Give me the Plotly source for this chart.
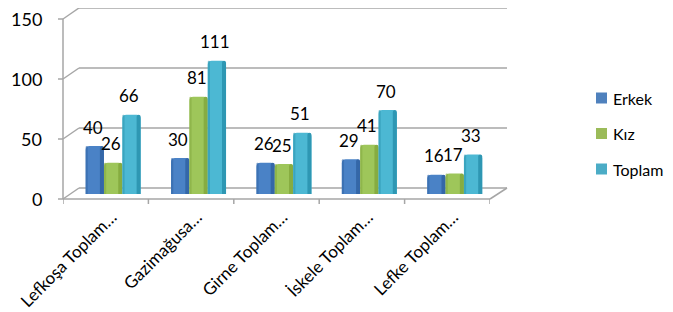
import plotly.graph_objects as go

categories = ["Lefkoşa Toplam…", "Gazimağusa…", "Girne Toplam…", "İskele Toplam…", "Lefke Toplam…"]
erkek = [40, 30, 26, 29, 16]
kiz = [26, 81, 25, 41, 17]
toplam = [66, 111, 51, 70, 33]
series_names = ["Erkek", "Kız", "Toplam"]
y_ticks = [0, 50, 100, 150]
y_tick_labels = ["0", "50", "100", "150"]

edge_colors = ["#3467A8", "#86AC41", "#2E97B3"]
mid_colors = ["#4A82C6", "#9EC65A", "#4CB8D3"]
legend_colors = ["#4F81BD", "#9BBB59", "#4BACC6"]
offsets = [-0.235, -0.02, 0.195]
bar_w = 0.214

# page body has an 8px margin: lay out in window pixels minus 8
PAGE = 8
WIN_W, WIN_H = 673, 312
W, H = WIN_W - PAGE, WIN_H - PAGE
X_LEFT, X_RIGHT = 63, 490        # front category span (window px)
Y_TOP, Y_BASE = 14, 194          # bar scale 150 -> 0 (window px)
ML = X_LEFT - PAGE
MR = W - (X_RIGHT - PAGE)
MT = Y_TOP - PAGE
MB = H - (Y_BASE - PAGE)
PW = X_RIGHT - X_LEFT
PH = Y_BASE - Y_TOP
YMAX = 150
DX, DY_BACK, DY_FRONT = 16, 6, 5
FONT = "Lato"
GRID = "#A6A6A6"
LEG_X, LEG_Y0, LEG_STEP, LEG_SQ = 596, 98, 35.5, 11


def py(v, dy):
    """paper y for axis value v shifted by dy pixels (up positive)"""
    return (v / YMAX * PH + dy) / PH


def wx(x):
    return (x - X_LEFT) / PW


def wy(y):
    return (Y_BASE - y) / PH


fig = go.Figure()
values = [erkek, kiz, toplam]
for name, vals, ec, mc, off in zip(series_names, values, edge_colors, mid_colors, offsets):
    fig.add_trace(go.Bar(
        x=categories, y=vals, name=name, showlegend=False,
        marker=dict(color=mc, line=dict(width=0), cornerradius=4),
        width=bar_w, offset=off, hoverinfo="skip",
    ))
    fig.add_trace(go.Bar(
        x=categories, y=vals, name=name, showlegend=False,
        marker=dict(color=ec, line=dict(width=0), cornerradius=4),
        width=bar_w * 0.22, offset=off + bar_w * 0.78, hoverinfo="skip",
    ))
    fig.add_trace(go.Bar(
        x=categories, y=vals, name=name, showlegend=False,
        marker=dict(color=ec, line=dict(width=0), cornerradius=2, opacity=0.6),
        width=bar_w * 0.12, offset=off, hoverinfo="skip",
    ))

annotations = []
for vals, off in zip(values, offsets):
    for c, v in zip(categories, vals):
        annotations.append(dict(
            x=c, y=v, text=str(v), showarrow=False,
            xshift=(off + bar_w / 2) * PW / len(categories) - 2,
            yshift=19, yanchor="middle",
            font=dict(family=FONT, size=17, color="#000000"),
        ))
for v, t in zip(y_ticks, y_tick_labels):
    annotations.append(dict(
        x=-19 / PW, xref="paper", y=v, yref="y", text=t, showarrow=False,
        xanchor="right", yanchor="middle", yshift=-5,
        font=dict(family=FONT, size=18, color="#000000"),
    ))

shapes = []
line = dict(color=GRID, width=1.5)
for v in y_ticks:
    shapes.append(dict(type="line", xref="paper", yref="paper",
                       x0=DX / PW, x1=1 + (DX + 1) / PW, y0=py(v, DY_BACK), y1=py(v, DY_BACK),
                       line=line, layer="below"))
    shapes.append(dict(type="line", xref="paper", yref="paper",
                       x0=0, x1=DX / PW, y0=py(v, -DY_FRONT), y1=py(v, DY_BACK),
                       line=line, layer="below"))
    shapes.append(dict(type="line", xref="paper", yref="paper",
                       x0=-5 / PW, x1=0, y0=py(v, -DY_FRONT), y1=py(v, -DY_FRONT),
                       line=line, layer="below"))
shapes.append(dict(type="line", xref="paper", yref="paper", x0=0, x1=0,
                   y0=py(0, -DY_FRONT), y1=py(YMAX, -DY_FRONT), line=line, layer="below"))
shapes.append(dict(type="line", xref="paper", yref="paper", x0=0, x1=1,
                   y0=py(0, -DY_FRONT), y1=py(0, -DY_FRONT), line=line, layer="below"))
shapes.append(dict(type="line", xref="paper", yref="paper", x0=1, x1=1 + (DX + 1) / PW,
                   y0=py(0, -DY_FRONT), y1=py(0, DY_BACK), line=line, layer="below"))
for i in range(len(categories) + 1):
    shapes.append(dict(type="line", xref="x", yref="paper", x0=i - 0.5, x1=i - 0.5,
                       y0=py(0, -DY_FRONT), y1=py(0, -DY_FRONT - 5), line=line, layer="below"))

# legend (drawn manually for exact placement)
for k, (name, col) in enumerate(zip(series_names, legend_colors)):
    cy = LEG_Y0 + k * LEG_STEP
    shapes.append(dict(type="rect", xref="paper", yref="paper",
                       x0=wx(LEG_X), x1=wx(LEG_X + LEG_SQ),
                       y0=wy(cy - LEG_SQ / 2), y1=wy(cy + LEG_SQ / 2),
                       fillcolor=col, line=dict(width=0)))
    annotations.append(dict(x=wx(LEG_X + LEG_SQ + 4), y=wy(cy), xref="paper", yref="paper",
                            text=name, showarrow=False, xanchor="left", yanchor="middle",
                            font=dict(family=FONT, size=16, color="#000000")))

fig.update_layout(
    width=W, height=H,
    margin=dict(l=ML, r=MR, t=MT, b=MB, autoexpand=False),
    paper_bgcolor="white", plot_bgcolor="rgba(0,0,0,0)",
    barmode="overlay", showlegend=False,
    font=dict(family=FONT, size=17, color="#000000"),
    xaxis=dict(range=[-0.5, len(categories) - 0.5], showgrid=False, zeroline=False, showline=False,
               ticks="", tickangle=-45, ticklabelshift=6, ticklabelstandoff=9,
               tickfont=dict(family=FONT, size=17)),
    yaxis=dict(range=[0, YMAX], showgrid=False, zeroline=False, showline=False,
               ticks="", showticklabels=False),
    shapes=shapes, annotations=annotations,
)

fig.write_html("out.html")
